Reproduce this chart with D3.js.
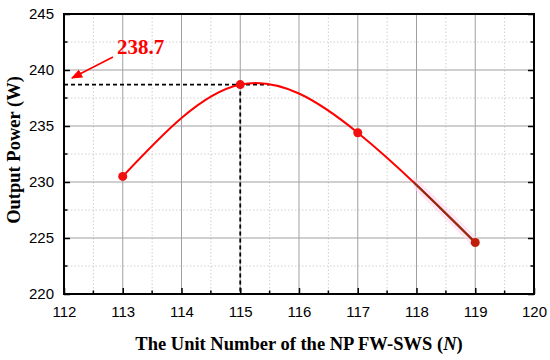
<!DOCTYPE html>
<html>
<head>
<meta charset="utf-8">
<script src="https://cdn.jsdelivr.net/npm/d3@7"></script>
<style>
body { margin: 0; background: #fff; }
svg { display: block; }
</style>
</head>
<body>
<svg id="chart" width="550" height="360"></svg>
<script>
var units = [113, 115, 117, 119];
var power = [230.5, 238.7, 234.4, 224.6];
var xTicks = [112, 113, 114, 115, 116, 117, 118, 119, 120];
var yTicks = [220, 225, 230, 235, 240, 245];
var peakLabel = "238.7";

var LEFT = 64, RIGHT = 534, TOP = 14, BOTTOM = 294;

var svg = d3.select("#chart");
var x = d3.scaleLinear().domain([112, 120]).range([LEFT, RIGHT]);
var y = d3.scaleLinear().domain([220, 245]).range([BOTTOM, TOP]);

var points = units.map(function(u, i) { return [u, power[i]]; });

// minor grid (dotted)
var minorX = d3.range(112.5, 120, 1);
var minorY = d3.range(222.5, 245, 5);
svg.append("g").selectAll("line").data(minorX).enter().append("line")
    .attr("x1", function(d) { return x(d); }).attr("x2", function(d) { return x(d); })
    .attr("y1", TOP).attr("y2", BOTTOM)
    .style("stroke", "#d0d0d0").style("stroke-dasharray", "1.5,2");
svg.append("g").selectAll("line").data(minorY).enter().append("line")
    .attr("y1", function(d) { return y(d); }).attr("y2", function(d) { return y(d); })
    .attr("x1", LEFT).attr("x2", RIGHT)
    .style("stroke", "#d0d0d0").style("stroke-dasharray", "1.5,2");

// major grid
svg.append("g").selectAll("line").data(xTicks.slice(1, -1)).enter().append("line")
    .attr("x1", function(d) { return x(d); }).attr("x2", function(d) { return x(d); })
    .attr("y1", TOP).attr("y2", BOTTOM)
    .style("stroke", "#a0a0a0").style("stroke-width", 1);
svg.append("g").selectAll("line").data(yTicks.slice(1, -1)).enter().append("line")
    .attr("y1", function(d) { return y(d); }).attr("y2", function(d) { return y(d); })
    .attr("x1", LEFT).attr("x2", RIGHT)
    .style("stroke", "#a0a0a0").style("stroke-width", 1);

// dashed guides to peak
var peak = points[1];
svg.append("line")
    .attr("x1", x(112)).attr("x2", x(115.5))
    .attr("y1", y(peak[1])).attr("y2", y(peak[1]))
    .style("stroke", "#000").style("stroke-width", 1.8).style("stroke-dasharray", "4,3");
svg.append("line")
    .attr("x1", x(peak[0])).attr("x2", x(peak[0]))
    .attr("y1", y(peak[1])).attr("y2", BOTTOM)
    .style("stroke", "#000").style("stroke-width", 1.8).style("stroke-dasharray", "4,3");

// axes with inner ticks
var xAxis = d3.axisBottom(x).tickValues(xTicks).tickSizeInner(-6).tickSizeOuter(0).tickPadding(12);
var gx = svg.append("g").attr("transform", "translate(0," + BOTTOM + ")").call(xAxis);
var yAxis = d3.axisLeft(y).tickValues(yTicks).tickSizeInner(-6).tickSizeOuter(0).tickPadding(10);
var gy = svg.append("g").attr("transform", "translate(" + LEFT + ",0)").call(yAxis);
var yRight = d3.axisRight(y).tickValues(yTicks).tickSizeInner(-6).tickSizeOuter(0).tickFormat("");
var gr = svg.append("g").attr("transform", "translate(" + RIGHT + ",0)").call(yRight);

[gx, gy].forEach(function(g) {
    g.selectAll("text").style("font-family", "Arial, 'Liberation Sans', sans-serif")
        .style("font-size", "15px").style("fill", "#000");
});
[gx, gy, gr].forEach(function(g) {
    g.select(".domain").remove();
    g.selectAll(".tick line").style("stroke", "#000").style("stroke-width", 1.5);
});

// minor ticks
svg.append("g").selectAll("line").data(minorX).enter().append("line")
    .attr("x1", function(d) { return x(d); }).attr("x2", function(d) { return x(d); })
    .attr("y1", BOTTOM).attr("y2", BOTTOM - 3.5)
    .style("stroke", "#000").style("stroke-width", 1.5);
svg.append("g").selectAll("line").data(minorY).enter().append("line")
    .attr("y1", function(d) { return y(d); }).attr("y2", function(d) { return y(d); })
    .attr("x1", LEFT).attr("x2", LEFT + 3.5)
    .style("stroke", "#000").style("stroke-width", 1.5);
svg.append("g").selectAll("line").data(minorY).enter().append("line")
    .attr("y1", function(d) { return y(d); }).attr("y2", function(d) { return y(d); })
    .attr("x1", RIGHT).attr("x2", RIGHT - 3.5)
    .style("stroke", "#000").style("stroke-width", 1.5);

// frame
svg.append("rect")
    .attr("x", LEFT).attr("y", TOP).attr("width", RIGHT - LEFT).attr("height", BOTTOM - TOP)
    .style("fill", "none").style("stroke", "#000").style("stroke-width", 2);

// curve
var line = d3.line()
    .x(function(d) { return x(d[0]); })
    .y(function(d) { return y(d[1]); })
    .curve(d3.curveNatural);

svg.append("clipPath").attr("id", "tail")
    .append("rect").attr("x", x(117.95)).attr("y", TOP).attr("width", RIGHT - x(117.95)).attr("height", BOTTOM - TOP);

svg.append("path").datum(points).attr("d", line)
    .attr("clip-path", "url(#tail)")
    .style("fill", "none").style("stroke", "#ffd6f0").style("stroke-width", 9).style("opacity", 0.6);
svg.append("path").datum(points).attr("d", line)
    .style("fill", "none").style("stroke", "#ff0000").style("stroke-width", 2);
svg.append("path").datum(points).attr("d", line)
    .attr("clip-path", "url(#tail)")
    .style("fill", "none").style("stroke", "#8a3010").style("stroke-width", 2);

svg.append("g").selectAll("circle").data(points).enter().append("circle")
    .attr("cx", function(d) { return x(d[0]); })
    .attr("cy", function(d) { return y(d[1]); })
    .attr("r", 4.5)
    .style("fill", function(d, i) { return i == points.length - 1 ? "#c0200a" : "#f01010"; });

// annotation
svg.append("defs").append("marker")
    .attr("id", "arrow").attr("viewBox", "0 0 10 10").attr("refX", 9).attr("refY", 5)
    .attr("markerWidth", 7).attr("markerHeight", 7).attr("orient", "auto")
    .append("path").attr("d", "M0,1 L10,5 L0,9 z").style("fill", "#ff0000");
svg.append("line")
    .attr("x1", 113).attr("y1", 57).attr("x2", 72).attr("y2", 78)
    .style("stroke", "#ff0000").style("stroke-width", 1.6).attr("marker-end", "url(#arrow)");
svg.append("text")
    .attr("x", 117).attr("y", 54)
    .style("font-family", "'Liberation Serif', 'Times New Roman', serif")
    .style("font-weight", "bold").style("font-size", "21px").style("fill", "#ff0000")
    .text(peakLabel);

// axis titles
svg.append("text")
    .attr("x", (LEFT + RIGHT) / 2).attr("y", 350)
    .attr("text-anchor", "middle")
    .style("font-family", "'Liberation Serif', 'Times New Roman', serif")
    .style("font-weight", "bold").style("font-size", "18.5px")
    .call(function(t) {
        t.append("tspan").text("The Unit Number of the NP FW-SWS (");
        t.append("tspan").style("font-style", "italic").text("N");
        t.append("tspan").text(")");
    });
svg.append("text")
    .attr("transform", "translate(20,150) rotate(-90)")
    .attr("text-anchor", "middle")
    .style("font-family", "'Liberation Serif', 'Times New Roman', serif")
    .style("font-weight", "bold").style("font-size", "18.5px")
    .text("Output Power (W)");
</script>
</body>
</html>
